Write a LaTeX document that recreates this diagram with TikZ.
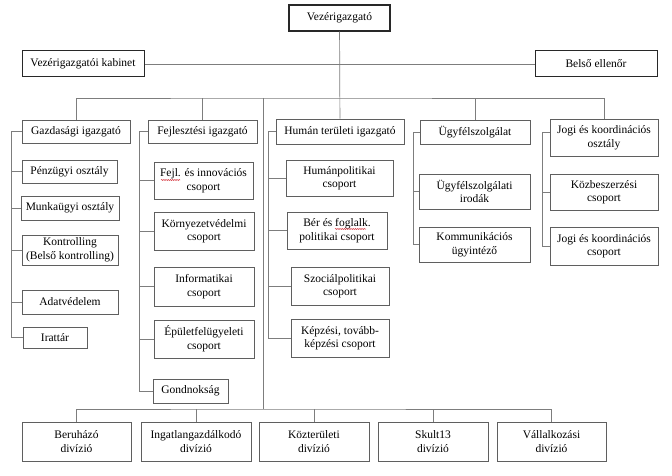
\documentclass[tikz,border=0pt]{standalone}
\usepackage{fontspec}
\setmainfont{Liberation Serif}
\usepackage{tikz}
\usetikzlibrary{positioning, calc, decorations.pathmorphing}
\definecolor{mydark}{RGB}{40,40,40}
\definecolor{myframe}{RGB}{95,95,95}
\definecolor{myline}{RGB}{125,125,125}
\definecolor{myred}{RGB}{210,40,50}
\tikzset{
  box/.style={rectangle, draw=myframe, fill=white, align=center,
    inner sep=1pt, line width=0.8pt,
    font=\fontsize{11.5}{13.5}\selectfont},
  headbox/.style={box, draw=mydark, line width=1.3pt},
  line/.style={thin, color=myline, line width=0.7pt},
  squiggle/.style={myred, line width=0.5pt,
    decorate, decoration={snake, amplitude=0.5pt, segment length=2.2pt}}
}

\begin{document}
\begin{tikzpicture}[x=1pt, y=-1pt]
  \useasboundingbox (0,0) rectangle (672,476);

  % Top level
  \node[headbox, minimum width=101pt, minimum height=26pt] (vez) at (339.5,18) {Vezérigazgató};
  \node[headbox, line width=1pt, minimum width=122pt, minimum height=26pt] (kab) at (83,64) {Vezérigazgatói kabinet};
  \node[headbox, line width=1pt, minimum width=122pt, minimum height=26pt] (bel) at (596,64) {Belső ellenőr};

  % Directors
  \node[box, minimum width=108pt, minimum height=23pt] (gaz) at (76,131.5) {Gazdasági igazgató};
  \node[box, minimum width=109pt, minimum height=23pt] (fej) at (202.5,131.5) {Fejlesztési igazgató};
  \node[box, minimum width=128pt, minimum height=25pt] (hum) at (340,131.5) {Humán területi igazgató};
  \node[box, minimum width=110pt, minimum height=24pt] (ugy) at (475,132) {Ügyfélszolgálat};
  \node[box, minimum width=108pt, minimum height=37pt] (jog) at (604,137.5) {Jogi és koordinációs\\osztály};

  % Gazdasagi
  \node[box, minimum width=95pt, minimum height=23pt] (pen) at (69.5,171.5) {Pénzügyi osztály};
  \node[box, minimum width=98pt, minimum height=24pt] (mun) at (70,208) {Munkaügyi osztály};
  \node[box, minimum width=96pt, minimum height=30pt] (kon) at (70,250) {Kontrolling\\(Belső kontrolling)};
  \node[box, minimum width=96pt, minimum height=24pt] (ada) at (70,302) {Adatvédelem};
  \node[box, minimum width=64pt, minimum height=21pt] (ira) at (55,337.5) {Irattár};

  % Fejlesztesi
  \node[box, minimum width=99pt, minimum height=37pt] (inn) at (203.5,180.5) {Fejl. és innovációs\\csoport};
  \node[box, minimum width=100pt, minimum height=38pt] (kor) at (204,231) {Környezetvédelmi\\csoport};
  \node[box, minimum width=100pt, minimum height=39pt] (inf) at (204,286.5) {Informatikai\\csoport};
  \node[box, minimum width=100pt, minimum height=38pt] (epu) at (204,339) {Épületfelügyeleti\\csoport};
  \node[box, minimum width=75pt, minimum height=24pt] (gon) at (190.5,391) {Gondnokság};

  % Human
  \node[box, minimum width=107pt, minimum height=36pt] (hpo) at (339.5,178) {Humánpolitikai\\csoport};
  \node[box, minimum width=100pt, minimum height=37pt] (ber) at (337,230.5) {Bér és foglalk.\\politikai csoport};
  \node[box, minimum width=98pt, minimum height=38pt] (szo) at (340,286) {Szociálpolitikai\\csoport};
  \node[box, minimum width=98pt, minimum height=38pt] (kep) at (340,338) {Képzési, tovább-\\képzési csoport};

  % Ugyfelszolgalat
  \node[box, minimum width=111pt, minimum height=35pt] (iro) at (474.5,191.5) {Ügyfélszolgálati\\irodák};
  \node[box, minimum width=111pt, minimum height=35pt] (kom) at (474.5,244.5) {Kommunikációs\\ügyintéző};

  % Jogi
  \node[box, minimum width=108pt, minimum height=36pt] (kbs) at (604,192) {Közbeszerzési\\csoport};
  \node[box, minimum width=108pt, minimum height=38pt] (jcs) at (604,246) {Jogi és koordinációs\\csoport};

  % Divisions
  \node[box, minimum width=109pt, minimum height=39pt] (bru) at (76.5,441.5) {Beruházó\\divízió};
  \node[box, minimum width=110pt, minimum height=39pt] (ing) at (196,441.5) {Ingatlangazdálkodó\\divízió};
  \node[box, minimum width=110pt, minimum height=39pt] (koz) at (314,441.5) {Közterületi\\divízió};
  \node[box, minimum width=110pt, minimum height=39pt] (sku) at (433,441.5) {Skult13\\divízió};
  \node[box, minimum width=109pt, minimum height=39pt] (val) at (551.5,441.5) {Vállalkozási\\divízió};

  % Bus lines
  \coordinate (bus) at (263,98);
  \coordinate (lowbus) at (263,409);
  \coordinate (gspine) at (11,131.5);
  \coordinate (fspine) at (139,131.5);
  \coordinate (hspine) at (268,131.5);
  \coordinate (uspine) at (413,132);
  \coordinate (jspine) at (542,132);

  \draw[line] (vez) -- (hum);
  \draw[line] (kab) -- (bel);
  \draw[line] (gaz.north) |- (bus) -| (jog.north);
  \foreach \n in {fej,ugy}
    \draw[line] (\n.north) -- (\n.north |- bus);
  \draw[line] (bus) -- (lowbus);
  \draw[line] (bru.north) |- (lowbus) -| (val.north);
  \foreach \n in {ing,koz,sku}
    \draw[line] (\n.north) -- (\n.north |- lowbus);

  % Spines
  \draw[line] (gaz.west) -- (gspine) |- (ira.west);
  \foreach \n in {pen,mun,kon,ada}
    \draw[line] (\n.west) -- (\n.west -| gspine);
  \draw[line] (fej.west) -- (fspine) |- (gon.west);
  \foreach \n in {inn,kor,inf,epu}
    \draw[line] (\n.west) -- (\n.west -| fspine);
  \draw[line] (hum.west) -- (hspine) |- (kep.west);
  \foreach \n in {hpo,ber,szo}
    \draw[line] (\n.west) -- (\n.west -| hspine);
  \draw[line] (ugy.west) -- (uspine) |- (kom.west);
  \draw[line] (iro.west) -- (iro.west -| uspine);
  \draw[line] (jspine -| jog.west) -- (jspine) |- (jcs.west);
  \draw[line] (kbs.west) -- (kbs.west -| jspine);

  % Spell check marks
  \draw[squiggle] (161,180) -- (180,180);
  \draw[squiggle] (335,229) -- (366,229);

\end{tikzpicture}
\end{document}
